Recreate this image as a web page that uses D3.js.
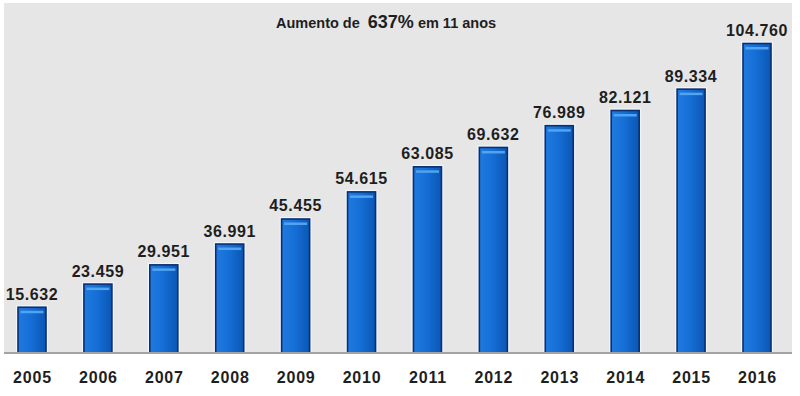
<!DOCTYPE html>
<html lang="pt">
<head>
<meta charset="UTF-8">
<title>Aumento de 637% em 11 anos</title>
<style>
    body { margin: 0; background: #fff; }
    svg { display: block; font-family: "Liberation Sans", Arial, sans-serif; }
    .val { font-size: 16px; font-weight: bold; fill: #1e1e1e; letter-spacing: 0.6px; }
    .yr { font-size: 16px; font-weight: bold; fill: #1e1e1e; letter-spacing: 0.8px; }
</style>
</head>
<body>
<svg id="chart"></svg>
<script src="https://d3js.org/d3.v7.min.js"></script>
<script>
    // data
    const years = ["2005", "2006", "2007", "2008", "2009", "2010", "2011", "2012", "2013", "2014", "2015", "2016"];
    const values = [15632, 23459, 29951, 36991, 45455, 54615, 63085, 69632, 76989, 82121, 89334, 104760];
    const labels = ["15.632", "23.459", "29.951", "36.991", "45.455", "54.615", "63.085", "69.632", "76.989", "82.121", "89.334", "104.760"];

    const width = 800, height = 396;
    const panel = { left: 4, top: 3, right: 792, bottom: 353 };
    const barW = 29;

    const svg = d3.select("#chart").attr("width", width).attr("height", height);

    const defs = svg.append("defs");
    const grad = defs.append("linearGradient").attr("id", "barGrad")
        .attr("x1", "0").attr("x2", "1").attr("y1", "0").attr("y2", "0");
    grad.append("stop").attr("offset", "0%").attr("stop-color", "#1f7ae0");
    grad.append("stop").attr("offset", "45%").attr("stop-color", "#166fd6");
    grad.append("stop").attr("offset", "100%").attr("stop-color", "#0b56b4");

    // grey panel
    svg.append("rect")
        .attr("x", panel.left).attr("y", panel.top)
        .attr("width", panel.right - panel.left).attr("height", panel.bottom - panel.top)
        .attr("fill", "#e6e6e6");

    const x = d3.scalePoint().domain(years).range([32, 757]);
    const y = d3.scaleLinear().domain([0, 104760]).range([panel.bottom, 43]);

    const data = years.map((yr, i) => ({ year: yr, value: values[i], label: labels[i] }));

    const bars = svg.append("g").selectAll("g").data(data).join("g")
        .attr("transform", d => `translate(${x(d.year) - barW / 2},0)`);

    // soft halo
    bars.append("rect")
        .attr("x", -1.5).attr("y", d => y(d.value) - 1.5)
        .attr("width", barW + 3).attr("height", d => panel.bottom - y(d.value) + 1.5)
        .attr("fill", "#f2f5fa");

    bars.append("rect")
        .attr("x", 0.5).attr("y", d => y(d.value) + 0.5)
        .attr("width", barW - 1).attr("height", d => panel.bottom - y(d.value) - 0.5)
        .attr("fill", "url(#barGrad)")
        .attr("stroke", "#0a2f6e").attr("stroke-width", 1.6);

    // highlight stripe near the top
    bars.append("rect")
        .attr("x", 3).attr("y", d => y(d.value) + 4)
        .attr("width", barW - 6).attr("height", 2.5)
        .attr("fill", "#52a4f0");

    // value labels
    svg.append("g").selectAll("text").data(data).join("text")
        .attr("class", "val")
        .attr("x", d => x(d.year))
        .attr("y", d => y(d.value) - 7)
        .attr("text-anchor", "middle")
        .text(d => d.label);

    // axis line
    svg.append("line")
        .attr("x1", panel.left).attr("x2", panel.right)
        .attr("y1", panel.bottom).attr("y2", panel.bottom)
        .attr("stroke", "#a3a3a3").attr("stroke-width", 2);

    // year labels
    const xAxis = d3.axisBottom(x).tickSize(0).tickPadding(0);
    const gx = svg.append("g").attr("transform", `translate(0,${panel.bottom})`).call(xAxis);
    gx.select(".domain").remove();
    gx.selectAll("text").attr("class", "yr").attr("dy", null).attr("y", 30)
        .attr("font-family", null).attr("font-size", null).attr("fill", null);

    // title
    const title = svg.append("text").attr("x", 276).attr("y", 28)
        .attr("font-weight", "bold").attr("fill", "#1e1e1e");
    title.append("tspan").attr("font-size", 14.5).text("Aumento de ");
    title.append("tspan").attr("font-size", 18).attr("dx", 4).text("637%");
    title.append("tspan").attr("font-size", 14.5).text(" em 11 anos");
</script>
</body>
</html>
